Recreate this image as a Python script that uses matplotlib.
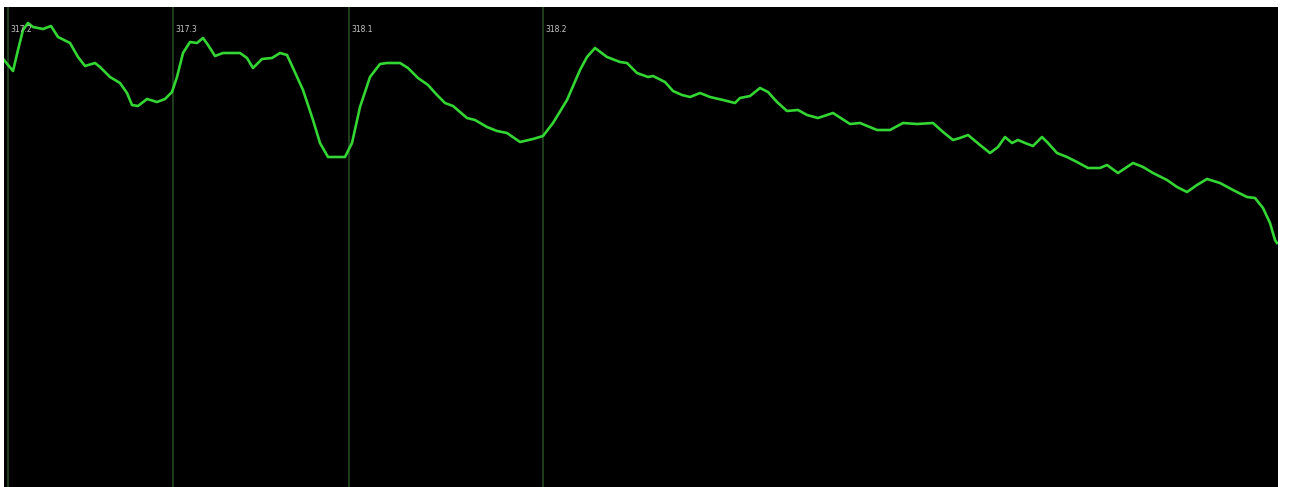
"""
Green trace on a black scope-style panel with marker lines.
"""

import matplotlib

matplotlib.use("Agg")

import matplotlib.pyplot as plt

# trace samples, ten per row
sample_idx = [
    0, 9, 14, 19, 24, 29, 39, 47, 54, 66,
    74, 81, 91, 96, 106, 116, 123, 128, 134, 143,
    153, 161, 168, 173, 179, 186, 193, 199, 204, 211,
    219, 236, 243, 249, 258, 268, 276, 283, 289, 299,
    309, 316, 324, 341, 348, 356, 366, 376, 383, 396,
    404, 414, 424, 433, 441, 449, 463, 471, 483, 493,
    503, 516, 529, 539, 549, 563, 576, 583, 591, 603,
    616, 623, 633, 644, 649, 661, 669, 678, 686, 696,
    706, 719, 731, 736, 746, 756, 764, 773, 783, 794,
    803, 814, 829, 846, 856, 873, 886, 899, 913, 929,
    939, 949, 956, 964, 976, 986, 994, 1001, 1008, 1014,
    1021, 1029, 1038, 1044, 1053, 1063, 1073, 1084, 1096, 1103,
    1114, 1129, 1139, 1149, 1163, 1173, 1183, 1193, 1203, 1216,
    1229, 1243, 1251, 1259, 1266, 1271, 1273,
]
level = [
    427, 416, 437, 457, 464, 460, 458, 461, 450, 444,
    430, 421, 424, 420, 410, 404, 394, 382, 381, 388,
    385, 388, 395, 410, 434, 445, 444, 449, 442, 431,
    434, 434, 429, 419, 428, 429, 434, 432, 419, 397,
    367, 344, 330, 330, 344, 380, 410, 423, 424, 424,
    419, 409, 402, 392, 384, 381, 369, 367, 360, 356,
    354, 345, 348, 351, 364, 387, 417, 430, 439, 430,
    425, 424, 414, 410, 411, 405, 396, 392, 390, 394,
    390, 387, 384, 389, 391, 399, 395, 385, 376, 377,
    372, 369, 374, 363, 364, 357, 357, 364, 363, 364,
    355, 347, 349, 352, 342, 334, 340, 350, 344, 347,
    344, 341, 350, 344, 334, 330, 325, 319, 319, 322,
    314, 324, 320, 314, 307, 300, 295, 302, 308, 304,
    297, 290, 289, 279, 264, 247, 244,
]

# marker lines and their labels
marker_idx = [4, 169, 345, 539]
marker_labels = ["317.2", "317.3", "318.1", "318.2"]

fig = plt.figure(figsize=(12.89, 4.87), dpi=100)
fig.patch.set_facecolor("white")
ax = fig.add_axes([4 / 1289, 0, 1274 / 1289, 480 / 487])
ax.set_facecolor("black")

for pos, label in zip(marker_idx, marker_labels):
    ax.axvline(pos, color="#22421f", linewidth=1.3, zorder=1)
    ax.text(pos + 2, 458, label, color="#c8c8c8", fontsize=5.5,
            ha="left", va="center", zorder=3)

ax.plot(sample_idx, level, color="#33d633", linewidth=1.9,
        solid_joinstyle="round", zorder=2)

ax.set_xlim(0, 1274)
ax.set_ylim(0, 480)
ax.set_xticks([])
ax.set_yticks([])
for spine in ax.spines.values():
    spine.set_visible(False)

fig.savefig("out.png", dpi=100, facecolor="white")
plt.close(fig)
